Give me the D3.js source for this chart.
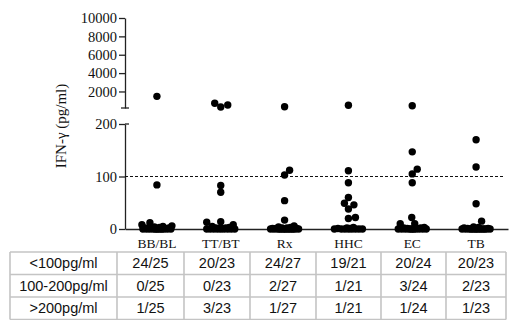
<!DOCTYPE html>
<html>
<head>
<meta charset="utf-8">
<script src="https://cdn.jsdelivr.net/npm/d3@7"></script>
<style>
  body { margin: 0; background: #fff; }
  svg { display: block; }
</style>
</head>
<body>
<div id="chart"></div>
<script>
// groups along the x axis
const categories = ["BB/BL", "TT/BT", "Rx", "HHC", "EC", "TB"];

// IFN-gamma values (pg/ml)
const bbbl = [1470, 84, 12, 8, 6, 5, 4, 3, 2, 2, 1, 1, 1, 0, 0, 0, 0, 0, 0, 0, 0, 0, 0, 0, 0];
const ttbt = [712, 527, 309, 83, 70, 14, 13, 8, 5, 3, 2, 2, 1, 1, 0, 0, 0, 0, 0, 0, 0, 0, 0];
const rx   = [342, 112, 103, 54, 17, 6, 4, 3, 2, 2, 1, 1, 1, 0, 0, 0, 0, 0, 0, 0, 0, 0, 0, 0, 0, 0, 0];
const hhc  = [494, 111, 88, 60, 49, 46, 38, 22, 20, 3, 2, 1, 1, 0, 0, 0, 0, 0, 0, 0, 0];
const ec   = [450, 147, 114, 105, 88, 22, 10, 10, 3, 2, 2, 1, 1, 0, 0, 0, 0, 0, 0, 0, 0, 0, 0, 0];
const tb   = [170, 118, 48, 15, 4, 3, 2, 1, 1, 0, 0, 0, 0, 0, 0, 0, 0, 0, 0, 0, 0, 0, 0];
const groups = [bbbl, ttbt, rx, hhc, ec, tb];

// axis ticks (broken axis)
const upperTicks = [2000, 4000, 6000, 8000, 10000];
const lowerTicks = [0, 100, 200];
const cutoff = 100;

// table under the chart
const rowLabels = ["<100pg/ml", "100-200pg/ml", ">200pg/ml"];
const below100 = ["24/25", "20/23", "24/27", "19/21", "20/24", "20/23"];
const between = ["0/25", "0/23", "2/27", "1/21", "3/24", "2/23"];
const above200 = ["1/25", "3/23", "1/27", "1/21", "1/24", "1/23"];
const tableRows = [below100, between, above200];

const width = 509, height = 320;
const axisX = 125;
const serif = "'Liberation Serif', 'Times New Roman', serif";
const sans = "'Liberation Sans', Arial, sans-serif";

const svg = d3.select("#chart").append("svg")
    .attr("width", width)
    .attr("height", height);

const x = d3.scaleBand().domain(categories).range([axisX, 508]);
const yLow = d3.scaleLinear().domain([0, 200]).range([229, 124]);
const yHigh = d3.scaleLinear().domain([200, 10000]).range([108, 18]);
const yOf = v => v <= 200 ? yLow(v) : yHigh(v);

// --- axes ---
const upper = svg.append("g")
    .attr("transform", `translate(${axisX},0)`)
    .call(d3.axisLeft(yHigh).tickValues(upperTicks).tickFormat(d3.format("d"))
        .tickSize(6).tickSizeOuter(0).tickPadding(2));
const lower = svg.append("g")
    .attr("transform", `translate(${axisX},0)`)
    .call(d3.axisLeft(yLow).tickValues(lowerTicks).tickFormat(d3.format("d"))
        .tickSize(6).tickSizeOuter(0).tickPadding(2));

[upper, lower].forEach(g => {
    g.attr("font-size", null).attr("font-family", null);
    g.selectAll("path, line").attr("stroke", "#222").attr("stroke-width", 1.3);
    g.selectAll("text")
        .attr("fill", "#111")
        .style("font-family", serif)
        .style("font-size", "14.5px");
});

// break caps
upper.append("line")
    .attr("x1", -4).attr("x2", 4)
    .attr("y1", yHigh(200)).attr("y2", yHigh(200))
    .attr("stroke", "#222").attr("stroke-width", 1.3);
lower.append("line")
    .attr("x1", 0).attr("x2", 4)
    .attr("y1", yLow(200)).attr("y2", yLow(200))
    .attr("stroke", "#222").attr("stroke-width", 1.3);

// x axis
const xAxis = svg.append("g")
    .attr("transform", `translate(0,${yLow(0)})`)
    .call(d3.axisBottom(x).tickSize(3).tickSizeOuter(0).tickPadding(6));
xAxis.attr("font-size", null).attr("font-family", null);
xAxis.select(".domain").attr("stroke", "#222").attr("stroke-width", 1.3);
xAxis.selectAll("line").attr("stroke", "#222").attr("stroke-width", 1.2);
xAxis.selectAll("text")
    .attr("fill", "#111")
    .style("font-family", serif)
    .style("font-size", "13.5px");

// 100 pg/ml cutoff
svg.append("line")
    .attr("x1", axisX).attr("x2", 505)
    .attr("y1", yLow(cutoff)).attr("y2", yLow(cutoff))
    .attr("stroke", "#111")
    .attr("stroke-width", 1)
    .attr("stroke-dasharray", "3,2");

// y title
svg.append("text")
    .attr("transform", `translate(66,126) rotate(-90)`)
    .attr("text-anchor", "middle")
    .style("font-family", serif)
    .style("font-size", "15px")
    .attr("fill", "#111")
    .text("IFN-γ (pg/ml)");

// --- dots, simple beeswarm so tied values spread sideways ---
const r = 3.7;
function swarm(values, cx) {
    const minGap = 2 * r * 0.92;
    const maxHalf = 15;
    const cands = [0];
    for (let d = 0.5; d <= maxHalf; d += 0.5) cands.push(d, -d);
    const pts = values.map(v => ({ v, y: yOf(v) })).sort((a, b) => b.y - a.y);
    const placed = [];
    pts.forEach(p => {
        let best = null, bestDist = -1;
        for (const c of cands) {
            let md = Infinity;
            placed.forEach(q => {
                md = Math.min(md, Math.hypot(q.dx - c, q.y - p.y));
            });
            if (md >= minGap) { best = c; break; }
            if (md > bestDist) { bestDist = md; best = c; }
        }
        p.dx = best;
        placed.push(p);
    });
    return pts.map(p => ({ x: cx + p.dx, y: p.y }));
}

groups.forEach((vals, i) => {
    const cx = x(categories[i]) + x.bandwidth() / 2;
    svg.append("g")
        .selectAll("circle")
        .data(swarm(vals, cx))
        .join("circle")
        .attr("cx", d => d.x)
        .attr("cy", d => d.y)
        .attr("r", r)
        .attr("fill", "#000");
});

// --- table ---
const colEdges = [10, 117, 184, 250, 316, 381, 446, 506];
const rowEdges = [252, 274.5, 297, 319.5];
const tbl = svg.append("g");

rowEdges.forEach(yy => {
    tbl.append("line")
        .attr("x1", colEdges[0]).attr("x2", colEdges[colEdges.length - 1])
        .attr("y1", yy).attr("y2", yy)
        .attr("stroke", "#c4c4c4").attr("stroke-width", 1.6);
});
colEdges.forEach(xx => {
    tbl.append("line")
        .attr("x1", xx).attr("x2", xx)
        .attr("y1", rowEdges[0]).attr("y2", rowEdges[rowEdges.length - 1])
        .attr("stroke", "#c4c4c4").attr("stroke-width", 1.6);
});

rowLabels.forEach((label, ri) => {
    const cells = [label].concat(tableRows[ri]);
    const cy = (rowEdges[ri] + rowEdges[ri + 1]) / 2;
    cells.forEach((txt, ci) => {
        tbl.append("text")
            .attr("x", (colEdges[ci] + colEdges[ci + 1]) / 2)
            .attr("y", cy)
            .attr("dy", "0.36em")
            .attr("text-anchor", "middle")
            .style("font-family", sans)
            .style("font-size", "14.5px")
            .attr("fill", "#111")
            .text(txt);
    });
});
</script>
</body>
</html>
